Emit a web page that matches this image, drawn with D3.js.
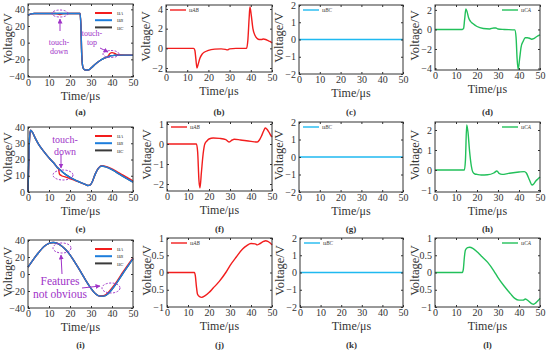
<!DOCTYPE html>
<html>
<head>
<meta charset="utf-8">
<script src="https://cdn.jsdelivr.net/npm/d3@7"></script>
<style>
  body { margin: 0; background: #fff; }
  svg { font-family: "Liberation Serif", "DejaVu Serif", serif; }
</style>
</head>
<body>
<svg id="chart" width="550" height="351"></svg>
<script>
// ---- data (time in us, voltage in V) ----
// (a) touch-down / touch-top, phase voltages
const tA = [0, 0.5, 1.5, 3, 10, 13, 14, 15, 16, 17, 20, 24.8, 25.2, 25.6, 26.2, 27, 28, 29, 30, 32, 34, 36, 38, 39, 40, 41, 42, 44, 46, 50];
const aUB = [33, 33.5, 34.5, 35, 35, 35, 35, 35, 35, 35, 35, 35, 20, -15, -30, -32.5, -33, -32.5, -30.5, -26, -22, -19, -17, -16, -15.5, -15.2, -15, -15, -15, -15];
const aUA = [33, 33.5, 34.5, 35, 35, 35, 34.6, 33.8, 34.3, 34.8, 35, 35, 20, -15, -30, -32.5, -33, -32.5, -30.5, -26, -22, -19, -16.5, -13, -12, -12.5, -14, -14.8, -15, -15];
const aUC = aUB.slice();
// (b) line voltage uAB
const tB = [0, 13, 13.6, 14.1, 14.6, 15.2, 16, 17, 18, 20, 23, 26, 28, 29, 30, 33, 38, 38.6, 39.2, 39.6, 40.2, 41, 42, 43, 44, 45, 46, 47, 48, 49, 50];
const bUAB = [0, 0, -0.2, -1.1, -2.0, -1.6, -1.0, -0.6, -0.4, -0.2, -0.08, -0.05, -0.1, -0.15, -0.05, 0, 0, 0.8, 3.0, 4.2, 3.4, 2.0, 1.3, 1.0, 0.9, 0.9, 0.95, 0.9, 0.8, 0.7, 0.55];
// (d) line voltage uCA
const tD = [0, 13, 13.6, 14.1, 14.7, 15.3, 16, 17, 18, 20, 23, 26, 28, 29, 30, 33, 38, 38.6, 39.1, 39.6, 40.3, 41, 42, 43, 44, 45, 46, 47, 48, 49, 50];
const dUCA = [0, 0, 0.1, 1.0, 2.1, 1.8, 1.2, 0.8, 0.6, 0.3, 0.1, 0.05, 0.15, 0.15, 0.05, 0, -0.05, -0.8, -3.0, -4.1, -3.0, -1.8, -1.2, -0.85, -0.85, -0.9, -1.0, -0.95, -0.8, -0.65, -0.55];
// (e) touch-down, decaying phase voltages
const tE = [0, 0.3, 0.7, 1.2, 2, 3.5, 5, 7.5, 10, 12.5, 14, 14.5, 15, 16, 18, 20, 22.5, 25, 27, 28.5, 29.5, 30.5, 32, 33.5, 35, 37, 40, 42.5, 45, 47.5, 50];
const eUB = [0, 15, 32, 38, 37, 33, 29.5, 25, 21, 17.5, 15, 14.5, 14, 12.8, 10.7, 9, 7.3, 5.9, 4.8, 4, 4.2, 6, 11, 14.5, 16, 15.5, 13.8, 11.8, 9.8, 7.9, 6];
const eUA = [0, 15, 32, 38, 37, 33, 29.5, 25, 21, 17.5, 15, 14.3, 11, 10, 9.2, 8.3, 7, 5.8, 4.8, 4, 4.2, 6, 11, 14.6, 16.2, 15.8, 14.3, 12.4, 10.5, 8.7, 6.9];
const eUC = eUB.slice();
// (f) uAB
const tF = [0, 14, 14.6, 15.2, 15.7, 16.4, 17.2, 18, 19, 20, 22, 25, 28, 29.5, 31, 32, 35, 40, 43, 44, 45, 46, 46.8, 47.5, 48.5, 49.3, 50];
const fUAB = [0, 0, -0.4, -1.8, -2.2, -1.4, -0.5, 0, 0.15, 0.25, 0.3, 0.28, 0.22, 0.1, 0.2, 0.24, 0.2, 0.13, 0.1, 0.2, 0.4, 0.65, 0.8, 0.75, 0.6, 0.45, 0.35];
// (h) uCA
const tH = [0, 14, 14.5, 15.1, 15.7, 16.5, 17.3, 18, 19, 20, 22, 25, 28, 29.5, 30.5, 32, 35, 40, 42.5, 43.5, 45, 46.2, 47, 48, 49, 50];
const hUCA = [0, 0, 0.5, 2.25, 1.9, 0.9, 0.2, -0.1, -0.2, -0.22, -0.25, -0.24, -0.15, -0.05, -0.17, -0.22, -0.17, -0.1, -0.08, -0.15, -0.5, -0.75, -0.7, -0.55, -0.45, -0.35];
// (i) features not obvious, sinusoidal phase voltages
const tI = [0, 2.5, 5, 7.5, 10, 12, 14, 16, 18, 20, 22.5, 25, 27.5, 30, 32, 34, 36, 38, 40, 42.5, 45, 47.5, 50];
const iUB = [8, 17, 25, 32, 36, 37, 36, 33, 28.5, 22.5, 13, 3, -7.5, -17, -23, -26, -26, -23.5, -18, -9.5, 0, 9, 18];
const iUA = [8, 17, 25, 32, 36, 37, 36, 33, 28.5, 22.5, 13, 3, -7.5, -17, -23, -25.8, -25.5, -22.5, -16.5, -8, 1.5, 10.5, 19];
const iUC = iUB.slice();
// (j) uAB
const tJ = [0, 13, 13.5, 14, 14.5, 15.5, 16.5, 18, 20, 22, 25, 28, 30, 33, 36, 38, 40, 42, 43, 44, 46, 47, 48, 49, 50];
const jUAB = [0, 0, -0.1, -0.4, -0.62, -0.7, -0.72, -0.68, -0.58, -0.45, -0.25, 0, 0.2, 0.45, 0.68, 0.78, 0.84, 0.83, 0.8, 0.83, 0.9, 0.92, 0.9, 0.86, 0.8];
// (l) uCA
const tL = [0, 13, 13.5, 14, 14.5, 15.5, 16.5, 18, 20, 22, 25, 28, 30, 33, 36, 38, 40, 42, 43, 44, 46, 47, 48, 49, 50];
const lUCA = [0, 0, 0.1, 0.45, 0.65, 0.72, 0.73, 0.7, 0.6, 0.48, 0.3, 0.05, -0.15, -0.4, -0.62, -0.75, -0.8, -0.8, -0.77, -0.8, -0.9, -0.92, -0.88, -0.82, -0.75];
// uBC stays at zero in (c), (g), (k)
const tZero = [0, 50];
const zUBC = [0, 0];

// tick labels
const xTicks = [0, 10, 20, 30, 40, 50];
const ticksPhaseA = [-40, -20, 0, 20, 40];
const ticksB = [-2, 0, 2, 4];
const ticksBC = [-2, -1, 0, 1, 2];
const ticksD = [-4, -2, 0, 2];
const ticksE = [0, 10, 20, 30, 40];
const ticksF = [-2, -1, 0, 1];
const ticksH = [-1, 0, 1, 2];
const ticksJ = [-1, -0.5, 0, 0.5, 1];

const RED = "#f21d1d", BLUE = "#1c7ddc", BLACK = "#3a3a3a", CYAN = "#1fb9f0", GREEN = "#22c05a", PURPLE = "#a033c8";
const INK = "#333";

const zip = (t, v) => t.map((d, i) => [d, v[i]]);
const fmt = d3.format("~g");

const phase = (t, ua, ub, uc) => [
  { color: BLACK, pts: zip(t, uc) },
  { color: RED, pts: zip(t, ua) },
  { color: BLUE, pts: zip(t, ub) }
];

// panel layout: box = [left, top, right, bottom], tagY = baseline of the (x) caption
const panels = [
  { tag: "(a)", tagY: 115, box: [28, 4, 133, 77], dom: [-41.2, 46.4], ticks: ticksPhaseA, series: phase(tA, aUA, aUB, aUC), legend: "phase" },
  { tag: "(b)", tagY: 115, box: [166, 5, 272, 72], dom: [-2.4, 4.4], ticks: ticksB, series: [{ color: RED, pts: zip(tB, bUAB) }], legend: "left", sub: "AB" },
  { tag: "(c)", tagY: 115, box: [299, 5, 403, 74], dom: [-2, 2], ticks: ticksBC, series: [{ color: CYAN, pts: zip(tZero, zUBC) }], legend: "left", sub: "BC" },
  { tag: "(d)", tagY: 115, box: [435, 5, 540, 70], dom: [-4.15, 2.5], ticks: ticksD, series: [{ color: GREEN, pts: zip(tD, dUCA) }], legend: "right", sub: "CA" },
  { tag: "(e)", tagY: 232, box: [28, 127, 133, 192], dom: [0, 40], ticks: ticksE, series: phase(tE, eUA, eUB, eUC), legend: "phase" },
  { tag: "(f)", tagY: 232, box: [167, 122, 272, 191], dom: [-2.35, 1.1], ticks: ticksF, series: [{ color: RED, pts: zip(tF, fUAB) }], legend: "left", sub: "AB" },
  { tag: "(g)", tagY: 232, box: [299, 122, 403, 192], dom: [-2, 2], ticks: ticksBC, series: [{ color: CYAN, pts: zip(tZero, zUBC) }], legend: "left", sub: "BC" },
  { tag: "(h)", tagY: 232, box: [435, 122, 540, 192], dom: [-1.1, 2.4], ticks: ticksH, series: [{ color: GREEN, pts: zip(tH, hUCA) }], legend: "right", sub: "CA" },
  { tag: "(i)", tagY: 348, box: [28, 240, 133, 308], dom: [-40, 40], ticks: ticksPhaseA, series: phase(tI, iUA, iUB, iUC), legend: "phase" },
  { tag: "(j)", tagY: 348, box: [167, 238, 272, 307], dom: [-1, 1], ticks: ticksJ, series: [{ color: RED, pts: zip(tJ, jUAB) }], legend: "left", sub: "AB" },
  { tag: "(k)", tagY: 348, box: [300, 238, 403, 307], dom: [-2, 2], ticks: ticksBC, series: [{ color: CYAN, pts: zip(tZero, zUBC) }], legend: "left", sub: "BC" },
  { tag: "(l)", tagY: 348, box: [435, 238, 540, 307], dom: [-1, 1], ticks: ticksJ, series: [{ color: GREEN, pts: zip(tL, lUCA) }], legend: "right", sub: "CA" }
];

const svg = d3.select("#chart");

svg.append("defs").append("marker")
  .attr("id", "arrow")
  .attr("viewBox", "0 0 10 10")
  .attr("refX", 9).attr("refY", 5)
  .attr("markerWidth", 5).attr("markerHeight", 5)
  .attr("orient", "auto")
  .append("path")
  .attr("d", "M0,0L10,5L0,10z")
  .attr("fill", PURPLE);

// legend label: italic u with small letters after it
function uLabel(sel, sub, size) {
  sel.append("tspan").attr("font-style", "italic").attr("font-size", size).text("u");
  sel.append("tspan").attr("font-style", "italic").attr("font-size", size * 0.8).text(sub);
}

panels.forEach(p => {
  const [x0, y0, x1, y1] = p.box;
  const x = d3.scaleLinear().domain([0, 50]).range([x0, x1]);
  const y = d3.scaleLinear().domain(p.dom).range([y1, y0]);
  const g = svg.append("g");

  // lines
  const line = d3.line().x(d => x(d[0])).y(d => y(d[1])).curve(d3.curveMonotoneX);
  p.series.forEach(s => {
    g.append("path")
      .attr("d", line(s.pts))
      .attr("fill", "none")
      .attr("stroke", s.color)
      .attr("stroke-width", 1.4);
  });

  // axes with inward ticks, mirrored on top/right
  const ax = g.append("g").attr("font-size", 10.5);
  ax.append("g").attr("transform", `translate(0,${y1})`)
    .call(d3.axisBottom(x).tickValues(xTicks).tickSize(-2).tickPadding(1.5).tickFormat(fmt));
  ax.append("g").attr("transform", `translate(${x0},0)`)
    .call(d3.axisLeft(y).tickValues(p.ticks).tickSize(-2).tickPadding(3).tickFormat(fmt));
  ax.append("g").attr("transform", `translate(0,${y0})`)
    .call(d3.axisTop(x).tickValues(xTicks).tickSize(-2).tickFormat(""));
  ax.append("g").attr("transform", `translate(${x1},0)`)
    .call(d3.axisRight(y).tickValues(p.ticks).tickSize(-2).tickFormat(""));
  ax.selectAll(".domain").remove();
  ax.selectAll("text").attr("font-family", "Liberation Serif").attr("fill", INK);
  ax.selectAll("line").attr("stroke", INK);
  g.append("rect")
    .attr("x", x0).attr("y", y0)
    .attr("width", x1 - x0).attr("height", y1 - y0)
    .attr("fill", "none").attr("stroke", INK).attr("stroke-width", 1);

  // axis titles
  g.append("text")
    .attr("x", (x0 + x1) / 2).attr("y", y1 + 22.5)
    .attr("text-anchor", "middle").attr("font-size", 12).attr("fill", INK)
    .text("Time/μs");
  g.append("text")
    .attr("transform", `translate(${x0 - 16.5},${(y0 + y1) / 2 - 2}) rotate(-90)`)
    .attr("text-anchor", "middle").attr("font-size", 12.5).attr("fill", INK)
    .text("Voltage/V");

  // panel tag
  g.append("text")
    .attr("x", (x0 + x1) / 2).attr("y", p.tagY)
    .attr("text-anchor", "middle").attr("font-size", 9).attr("font-weight", "bold").attr("fill", INK)
    .text(p.tag);

  // legends
  if (p.legend === "phase") {
    const items = [["A", RED], ["B", BLUE], ["C", BLACK]];
    items.forEach((it, i) => {
      const ly = y0 + 9 + i * 7.2;
      g.append("line").attr("x1", x1 - 38).attr("x2", x1 - 21).attr("y1", ly).attr("y2", ly)
        .attr("stroke", it[1]).attr("stroke-width", 2);
      const t = g.append("text").attr("x", x1 - 16).attr("y", ly + 2.2).attr("fill", INK);
      uLabel(t, it[0], 6.2);
    });
  } else {
    const lx = p.legend === "left" ? x0 + 4 : x1 - 38;
    const ly = y0 + 5;
    g.append("line").attr("x1", lx).attr("x2", lx + 16).attr("y1", ly).attr("y2", ly)
      .attr("stroke", p.series[0].color).attr("stroke-width", 1.4);
    const t = g.append("text").attr("x", lx + 19).attr("y", ly + 2.2).attr("fill", INK);
    uLabel(t, p.sub, 6.5);
  }
});

// annotations
const ann = svg.append("g").attr("fill", PURPLE);
function ellipse(cx, cy, rx, ry) {
  ann.append("ellipse").attr("cx", cx).attr("cy", cy).attr("rx", rx).attr("ry", ry)
    .attr("fill", "none").attr("stroke", PURPLE).attr("stroke-width", 1).attr("stroke-dasharray", "2,1.5");
}
function arrow(xa, ya, xb, yb) {
  ann.append("line").attr("x1", xa).attr("y1", ya).attr("x2", xb).attr("y2", yb)
    .attr("stroke", PURPLE).attr("stroke-width", 1).attr("marker-end", "url(#arrow)");
}
function label(xc, yc, lines, size) {
  lines.forEach((s, i) => {
    ann.append("text").attr("x", xc).attr("y", yc + i * size * 1.15)
      .attr("text-anchor", "middle").attr("font-size", size).text(s);
  });
}
// (a)
ellipse(60, 13.5, 8, 3.5);
arrow(60, 31, 60, 19);
label(59, 45, ["touch-", "down"], 8);
ellipse(111, 54, 8, 3.5);
label(92, 36, ["touch-", "top"], 8);
arrow(100, 48, 108, 52);
// (e)
ellipse(63, 175, 10, 5);
arrow(61, 154, 61, 168);
label(65, 143, ["touch-", "down"], 10);
// (i)
ellipse(62, 248, 9, 5);
ellipse(111, 288, 9, 5);
arrow(62, 274, 61, 255);
arrow(82, 288, 100, 286);
label(60, 285, ["Features", "not obvious"], 11.5);
</script>
</body>
</html>
